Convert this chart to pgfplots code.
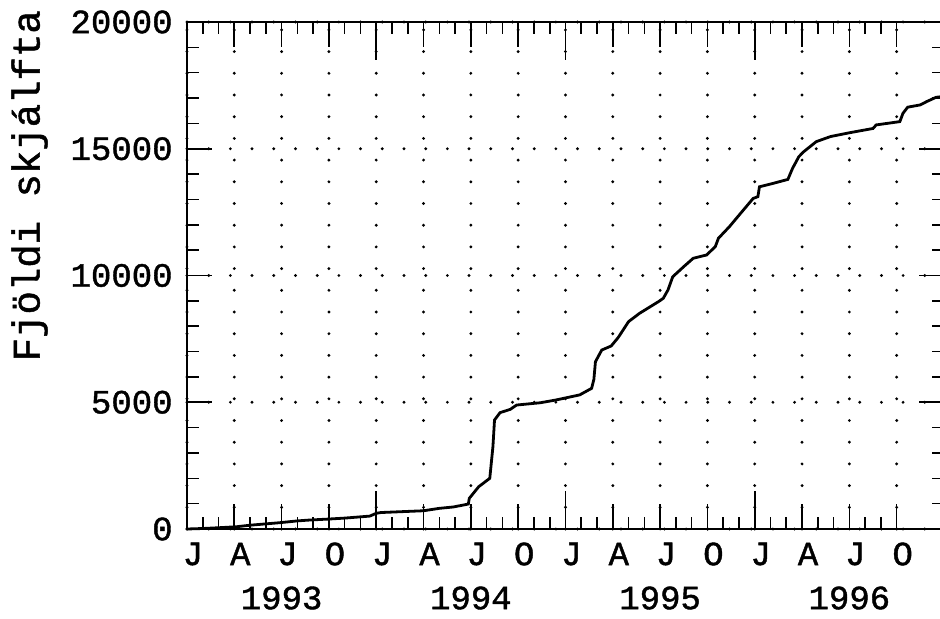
\documentclass[border=0pt]{standalone}
\usepackage{fontspec}
\setmainfont{Liberation Mono}[BoldFont={Liberation Mono}, BoldFeatures={FakeBold=1.2}]
\usepackage{pgfplots}
\pgfplotsset{compat=1.18}

\begin{document}
\begin{tikzpicture}
\begin{axis}[
  width=378.5pt, height=253.5pt, scale only axis,
  xmin=0, xmax=48, ymin=0, ymax=20000,
  clip=false,
  axis line style={line width=1pt},
  every tick/.style={line width=0.8pt, black},
  major tick length=12.5pt, minor tick length=6pt,
  xtick={0,3,...,45},
  xticklabels={J,A,J,O,J,A,J,O,J,A,J,O,J,A,J,O},
  minor x tick num=2,
  extra x ticks={12,24,36},
  extra x tick labels={},
  extra tick style={grid=none, major tick length=19pt},
  ytick={0,5000,10000,15000,20000},
  scaled y ticks=false,
  minor y tick num=4,
  grid=major,
  major grid style={line width=1.6pt, line cap=round, dash pattern=on 0pt off 10.85pt, black},
  /pgf/number format/assume math mode=true,
  /pgf/number format/1000 sep={},
  tick label style={font=\fontsize{17}{17}\selectfont\bfseries, inner sep=0pt},
  x tick label style={anchor=center, yshift=-12.5pt, xshift=3pt},
  y tick label style={anchor=east, xshift=-7pt},
  ylabel={Fjöldi skjálfta},
  ylabel style={at={(rel axis cs:-0.208,0.677)}, anchor=center, font=\fontsize{19.5}{19.5}\selectfont\bfseries},
]
\addplot[black, line width=1.4pt] coordinates {
(0,0) (1,20) (2.0,50) (3.15,90) (4,150) (5.9,250) (7,320) (7.8,355) (8.9,390)
(10,430) (11.6,510) (12,620) (12.3,650) (15,720) (16.0,815) (16.9,870)
(17.84,985) (17.9,1210) (18.5,1670) (19.2,2000) (19.4,3250) (19.5,4300)
(19.85,4590) (20.5,4720) (20.9,4890) (22.4,4980) (23.4,5090) (24.9,5290)
(25.66,5550) (25.8,5900) (25.9,6600) (26.3,7060) (26.9,7220) (27.35,7560)
(28.0,8180) (28.7,8510) (29.9,8970) (30.2,9100) (30.5,9430) (30.8,9950)
(31.5,10350) (32.1,10680) (32.95,10810) (33.5,11140) (33.7,11470)
(34.4,11930) (35.1,12450) (35.9,13040) (36.2,13110) (36.3,13500)
(37.2,13640) (38.1,13790) (38.4,14230) (38.8,14690) (39.1,14880)
(39.9,15280) (40.8,15480) (42.0,15630) (43.5,15800) (43.7,15940)
(45.2,16070) (45.4,16400) (45.7,16640) (46.5,16730) (46.9,16860)
(47.5,17030) (47.8,17050)
};
\node[font=\fontsize{17}{17}\selectfont\bfseries] at (axis cs:6,0) [yshift=-34.5pt] {1993};
\node[font=\fontsize{17}{17}\selectfont\bfseries] at (axis cs:18,0) [yshift=-34.5pt] {1994};
\node[font=\fontsize{17}{17}\selectfont\bfseries] at (axis cs:30,0) [yshift=-34.5pt] {1995};
\node[font=\fontsize{17}{17}\selectfont\bfseries] at (axis cs:42,0) [yshift=-34.5pt] {1996};
\coordinate (bbA) at (rel axis cs:-0.2470,1.04339);
\coordinate (bbB) at (rel axis cs:0.99472,-0.17554);
\end{axis}
\pgfresetboundingbox
\path (bbA) rectangle (bbB);
\end{tikzpicture}
\end{document}
